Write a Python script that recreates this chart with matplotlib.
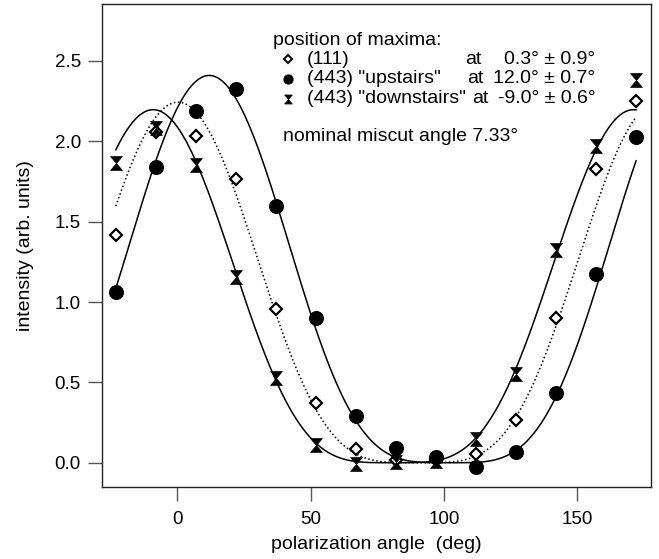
import numpy as np
import matplotlib
matplotlib.use('Agg')
from matplotlib import pyplot as plt
from matplotlib.path import Path

plt.rcParams['font.family'] = ['Liberation Sans', 'DejaVu Sans']
plt.rcParams['font.size'] = 14

# polarization angles (deg), 15 deg steps
angle = np.array([-23, -8, 7, 22, 37, 52, 67, 82, 97, 112, 127, 142, 157, 172])

# (111) reflection
i111 = np.array([1.42, 2.06, 2.03, 1.765, 0.955, 0.37, 0.083, 0.02, 0.02,
                 0.052, 0.266, 0.90, 1.826, 2.25])
# (443) "upstairs"
i443_up = np.array([1.063, 1.842, 2.19, 2.324, 1.597, 0.898, 0.293, 0.093, 0.037,
                    -0.025, 0.065, 0.434, 1.172, 2.025])
# (443) "downstairs"
i443_down = np.array([1.867, 2.08, 1.852, 1.158, 0.53, 0.11, -0.01, 0.005, 0.01,
                      0.146, 0.55, 1.323, 1.971, 2.381])

# fitted peak positions (deg) and their errors
peak = [0.3, 12.0, -9.0]
peak_err = [0.9, 0.7, 0.6]
names = ['(111)', '(443) "upstairs"', '(443) "downstairs"']
miscut = 7.33

# hourglass marker: two triangles meeting at the centre
bowtie = Path([(-0.85, 1), (0.85, 1), (0, 0), (-0.85, 1),
               (-0.85, -1), (0.85, -1), (0, 0), (-0.85, -1)],
              [Path.MOVETO, Path.LINETO, Path.LINETO, Path.CLOSEPOLY,
               Path.MOVETO, Path.LINETO, Path.LINETO, Path.CLOSEPOLY])


def cos4(x, x0):
    return np.cos(np.radians(x - x0)) ** 4


def fit_amp(y, x0):
    # least squares amplitude for A*cos^4(x - x0) with fixed x0
    f = cos4(angle, x0)
    return np.sum(y * f) / np.sum(f * f)


fig = plt.figure(figsize=(6.59, 5.59), dpi=100)
ax = fig.add_axes([0.1543, 0.1288, 0.8336, 0.864])

xfit = np.linspace(angle[0], angle[-1], 400)
series = [i111, i443_up, i443_down]
styles = [':', '-', '-']
for y, x0, ls in zip(series, peak, styles):
    ax.plot(xfit, fit_amp(y, x0) * cos4(xfit, x0), color='black', ls=ls, lw=1.1)

mk = [dict(marker='D', ms=6.5, mfc='white', mec='black', mew=1.6),
      dict(marker='o', ms=9.8, mfc='black', mec='black'),
      dict(marker=bowtie, ms=10, mfc='black', mec='black', mew=0.5)]
for y, m in zip(series, mk):
    ax.plot(angle, y, ls='none', **m)

ax.set_xlim(-28.3, 177.6)
ax.set_ylim(-0.151, 2.854)
ax.set_xticks([0, 50, 100, 150])
ax.set_yticks([0.0, 0.5, 1.0, 1.5, 2.0, 2.5])
ax.set_yticklabels(['0.0', '0.5', '1.0', '1.5', '2.0', '2.5'])
ax.tick_params(direction='out', length=10, width=1, color='#555555', labelsize=13.5)
ax.tick_params(axis='x', pad=7)
ax.tick_params(axis='y', pad=5)
for s in ax.spines.values():
    s.set_linewidth(1)
    s.set_color('#222222')

ax.set_xlabel('polarization angle  (deg)', fontsize=14, labelpad=6)
ax.set_ylabel('intensity (arb. units)', fontsize=14, labelpad=15)

# key for the peak positions
ax.text(0.312, 0.925, 'position of maxima:', transform=ax.transAxes,
        va='center', ha='left', fontsize=14)
rows = [0.886, 0.845, 0.804]
at_x = [0.661, 0.665, 0.674]
for yy, ax_at, name, p, e, m in zip(rows, at_x, names, peak, peak_err, mk):
    small = dict(m)
    small['ms'] = small['ms'] * 0.65
    if small['marker'] == 'D':
        small['mew'] = 1.4
    ax.plot([0.339], [yy], ls='none', transform=ax.transAxes, clip_on=False, **small)
    ax.text(0.374, yy, name, transform=ax.transAxes, va='center', ha='left', fontsize=14)
    ax.text(ax_at, yy, 'at', transform=ax.transAxes, va='center', ha='left', fontsize=14)
    ax.text(0.899, yy, f'{p:.1f}\u00b0 \u00b1 {e:.1f}\u00b0', transform=ax.transAxes,
            va='center', ha='right', fontsize=14)
ax.text(0.330, 0.725, f'nominal miscut angle {miscut:.2f}\u00b0', transform=ax.transAxes,
        va='center', ha='left', fontsize=14)

fig.savefig('out.png', dpi=100)
